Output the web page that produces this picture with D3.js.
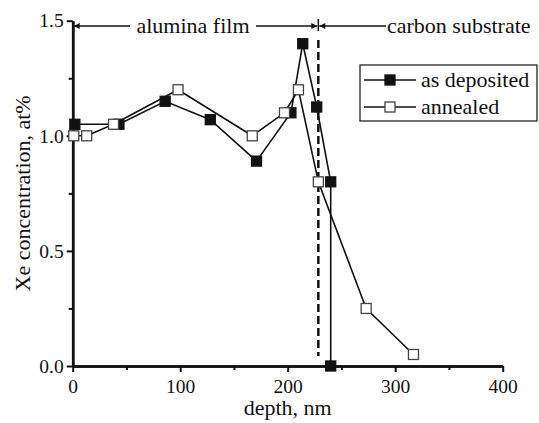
<!DOCTYPE html>
<html>
<head>
<meta charset="utf-8">
<script src="https://cdn.jsdelivr.net/npm/d3@7"></script>
<style>
  body { margin: 0; background: #fff; }
  svg text { font-family: "Liberation Serif", "Times New Roman", Times, "DejaVu Serif", serif; }
</style>
</head>
<body>
<div id="grafico"></div>
<script>
// depth (nm) / Xe concentration (at%)
const depositedDepth = [2, 43, 86, 128, 171, 203, 214, 227, 240, 240];
const depositedConc  = [1.05, 1.05, 1.15, 1.07, 0.89, 1.10, 1.40, 1.125, 0.80, 0.0];
const annealedDepth  = [1, 13, 38, 98, 167, 197, 210, 228.5, 273, 317];
const annealedConc   = [1.00, 1.00, 1.05, 1.20, 1.00, 1.10, 1.20, 0.80, 0.25, 0.05];

const xTicks = [0, 100, 200, 300, 400];
const xMinor = [50, 150, 250, 350];
const yTicks = [0.0, 0.5, 1.0, 1.5];
const yMinor = [0.25, 0.75, 1.25];

const boundary = 228.5;
const seriesNames = ["as deposited", "annealed"];

const depositedPts = depositedDepth.map((d, i) => ({ x: d, y: depositedConc[i] }));
const annealedPts = annealedDepth.map((d, i) => ({ x: d, y: annealedConc[i] }));

const FUENTE = "'Liberation Serif', 'Times New Roman', Times, 'DejaVu Serif', serif";
const W = 539, H = 423;
const svg = d3.select("#grafico").append("svg")
    .attr("width", W)
    .attr("height", H)
    .attr("font-family", FUENTE);

const x = d3.scaleLinear().domain([0, 400]).range([72.7, 502.7]);
const y = d3.scaleLinear().domain([0, 1.5]).range([366, 20.7]);

// flechas
const defs = svg.append("defs");
defs.append("marker")
    .attr("id", "flecha")
    .attr("viewBox", "0 0 10 10")
    .attr("refX", 10).attr("refY", 5)
    .attr("markerWidth", 10).attr("markerHeight", 6)
    .attr("markerUnits", "userSpaceOnUse")
    .attr("orient", "auto")
    .append("path")
    .attr("d", "M0,0 L10,5 L0,10 Z")
    .attr("fill", "#111");

// linea de limite
svg.append("line")
    .attr("x1", x(boundary)).attr("x2", x(boundary))
    .attr("y1", 40).attr("y2", 356)
    .attr("stroke", "#111")
    .attr("stroke-width", 2.5)
    .attr("stroke-dasharray", "8,4");

// ejes
const xAxis = svg.append("g")
    .attr("transform", `translate(0, ${y(0)})`)
    .call(d3.axisBottom(x).tickValues(xTicks).tickSize(6).tickSizeOuter(0).tickFormat(d3.format("d")));
const xAxisMinor = svg.append("g")
    .attr("transform", `translate(0, ${y(0)})`)
    .call(d3.axisBottom(x).tickValues(xMinor).tickSize(4).tickSizeOuter(0).tickFormat(""));
const yAxis = svg.append("g")
    .attr("transform", `translate(${x(0)}, 0)`)
    .call(d3.axisLeft(y).tickValues(yTicks).tickSize(6).tickSizeOuter(0).tickFormat(d3.format(".1f")));
const yAxisMinor = svg.append("g")
    .attr("transform", `translate(${x(0)}, 0)`)
    .call(d3.axisLeft(y).tickValues(yMinor).tickSize(4).tickSizeOuter(0).tickFormat(""));

[xAxis, xAxisMinor, yAxis, yAxisMinor].forEach(g => {
    g.attr("font-family", FUENTE).attr("font-size", 19.5);
    g.select(".domain").attr("stroke", "#111").attr("stroke-width", 2.5);
    g.selectAll(".tick line").attr("stroke", "#111").attr("stroke-width", 2);
    g.selectAll("text")
        .attr("fill", "#111")
        .attr("font-family", FUENTE);
});
xAxis.selectAll("text").attr("dy", "0.85em").attr("y", 10);
yAxis.selectAll("text").attr("x", -9);

// titulos de ejes
svg.append("text")
    .attr("x", x(200))
    .attr("y", 415)
    .attr("text-anchor", "middle")
    .attr("font-size", "22px")
    .attr("fill", "#111")
    .text("depth, nm");

svg.append("text")
    .attr("transform", `translate(30, ${y(0.75)}) rotate(-90)`)
    .attr("text-anchor", "middle")
    .attr("font-size", "22px")
    .attr("fill", "#111")
    .text("Xe concentration, at%");

// anotaciones
const yFlecha = 26;
svg.append("line")
    .attr("x1", 130).attr("x2", x(0) + 1)
    .attr("y1", yFlecha).attr("y2", yFlecha)
    .attr("stroke", "#111").attr("stroke-width", 1.5)
    .attr("marker-end", "url(#flecha)");
svg.append("text")
    .attr("x", 193).attr("y", yFlecha + 7)
    .attr("text-anchor", "middle")
    .attr("font-size", "22px")
    .attr("fill", "#111")
    .text("alumina film");
svg.append("line")
    .attr("x1", 256).attr("x2", x(boundary) - 1)
    .attr("y1", yFlecha).attr("y2", yFlecha)
    .attr("stroke", "#111").attr("stroke-width", 1.5)
    .attr("marker-end", "url(#flecha)");
svg.append("line")
    .attr("x1", x(boundary)).attr("x2", x(boundary))
    .attr("y1", yFlecha - 7).attr("y2", yFlecha + 5)
    .attr("stroke", "#111").attr("stroke-width", 1.5);
svg.append("line")
    .attr("x1", 386).attr("x2", x(boundary) + 1)
    .attr("y1", yFlecha).attr("y2", yFlecha)
    .attr("stroke", "#111").attr("stroke-width", 1.5)
    .attr("marker-end", "url(#flecha)");
svg.append("text")
    .attr("x", 387).attr("y", yFlecha + 7)
    .attr("font-size", "22px")
    .attr("fill", "#111")
    .text("carbon substrate");

// series
const linea = d3.line().x(d => x(d.x)).y(d => y(d.y));
const series = [
    { nombre: seriesNames[0], pts: depositedPts, relleno: "#111" },
    { nombre: seriesNames[1], pts: annealedPts, relleno: "#fff" }
];

series.forEach(s => {
    svg.append("path")
        .datum(s.pts)
        .attr("fill", "none")
        .attr("stroke", "#111")
        .attr("stroke-width", 1.6)
        .attr("d", linea);
});

const lado = 10;
series.forEach(s => {
    svg.selectAll(null)
        .data(s.pts)
        .enter()
        .append("rect")
        .attr("x", d => x(d.x) - lado / 2)
        .attr("y", d => y(d.y) - lado / 2)
        .attr("width", lado)
        .attr("height", lado)
        .attr("fill", s.relleno)
        .attr("stroke", s.relleno === "#fff" ? "#444" : "#111")
        .attr("stroke-width", 1.3);
});

// leyenda
const leyenda = svg.append("g");
leyenda.append("rect")
    .attr("x", 360).attr("y", 65)
    .attr("width", 177).attr("height", 56)
    .attr("fill", "#fff")
    .attr("stroke", "#111")
    .attr("stroke-width", 1.2);

series.forEach((s, i) => {
    const yy = 80 + i * 27;
    leyenda.append("line")
        .attr("x1", 364).attr("x2", 416)
        .attr("y1", yy).attr("y2", yy)
        .attr("stroke", "#111").attr("stroke-width", 1.6);
    leyenda.append("rect")
        .attr("x", 390 - lado / 2).attr("y", yy - lado / 2)
        .attr("width", lado).attr("height", lado)
        .attr("fill", s.relleno)
        .attr("stroke", s.relleno === "#fff" ? "#444" : "#111")
        .attr("stroke-width", 1.3);
    leyenda.append("text")
        .attr("x", 421).attr("y", yy + 7)
        .attr("font-size", "22px")
        .attr("fill", "#111")
        .text(s.nombre);
});
</script>
</body>
</html>
